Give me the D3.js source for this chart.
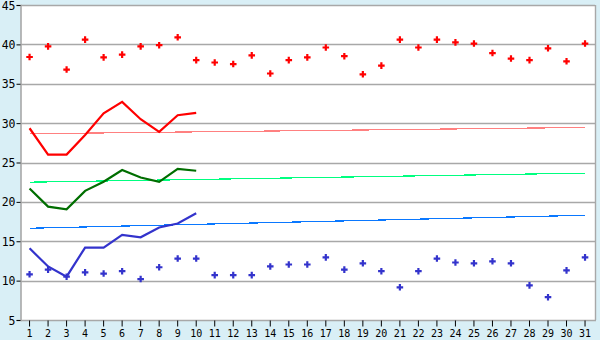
<!DOCTYPE html>
<html><head><meta charset="utf-8">
<script src="https://cdn.jsdelivr.net/npm/d3@7"></script>
<style>
html,body{margin:0;padding:0;background:#d9eff6;}
svg{display:block;}
text{font-family:"DejaVu Sans Mono",monospace;fill:#000;}
</style></head><body>
<svg id="c" width="600" height="340"></svg>
<script>
const days = d3.range(1, 32).map(String);
const yTicks = [5, 10, 15, 20, 25, 30, 35, 40, 45];
const highPoints = [38.4, 39.75, 36.8, 40.6, 38.35, 38.7, 39.75, 39.9, 40.9, 38.0,
  37.7, 37.5, 38.6, 36.3, 38.0, 38.35, 39.6, 38.5, 36.2, 37.3,
  40.6, 39.6, 40.6, 40.25, 40.1, 38.9, 38.2, 38.0, 39.5, 37.85, 40.1];
const lowPoints = [10.8, 11.4, 10.5, 11.05, 10.9, 11.2, 10.2, 11.7, 12.8, 12.8,
  10.7, 10.7, 10.7, 11.8, 12.05, 12.05, 12.95, 11.4, 12.2, 11.2,
  9.15, 11.2, 12.8, 12.3, 12.2, 12.45, 12.2, 9.4, 7.9, 11.3, 12.95];
const redLine = [29.35, 26.0, 26.0, 28.5, 31.25, 32.7, 30.5, 28.9, 31.0, 31.3];
const greenLine = [21.7, 19.4, 19.05, 21.4, 22.55, 24.05, 23.1, 22.55, 24.2, 23.95];
const blueLine = [14.1, 11.8, 10.5, 14.2, 14.2, 15.8, 15.5, 16.75, 17.25, 18.55];
const trendPink = [28.65, 29.45];
const trendGreen = [22.5, 23.65];
const trendBlue = [16.65, 18.3];

const svg = d3.select("#c");
const L = 21, R = 595, T = 5, B = 320;
const x = d3.scaleBand().domain(days).range([L - 0.7, R - 0.7]);
const xc = d => x(d) + x.bandwidth() / 2;
const y = d3.scaleLinear().domain([5, 45]).range([B, T]);

svg.append("rect").attr("x", L).attr("y", T).attr("width", R - L).attr("height", B - T).attr("fill", "#fff");

// gridlines
svg.append("g").selectAll("line").data(yTicks.filter(v => v > 5)).join("line")
  .attr("x1", L).attr("x2", R).attr("y1", d => Math.round(y(d)) + 0.5).attr("y2", d => Math.round(y(d)) + 0.5)
  .attr("stroke", "#a8a8a8").attr("stroke-width", 1.4);
// right border
svg.append("line").attr("x1", R + 0.5).attr("x2", R + 0.5).attr("y1", T).attr("y2", B)
  .attr("stroke", "#a8a8a8").attr("stroke-width", 1.4);

// axes
const yAxis = d3.axisLeft(y).tickValues(yTicks).tickSize(4).tickPadding(1);
const gy = svg.append("g").attr("transform", `translate(${L - 0.5},0)`).call(yAxis);
gy.select(".domain").attr("stroke", "#a8a8a8").attr("stroke-width", 1.6);
gy.selectAll(".tick line").attr("stroke", "#000");
gy.selectAll("text").style("font-size", "11.5px").attr("dy", "0.35em");

const xAxis = d3.axisBottom(x).tickSize(6).tickPadding(3);
const gx = svg.append("g").attr("transform", `translate(0,${B + 0.5})`).call(xAxis);
gx.select(".domain").attr("stroke", "#a8a8a8").attr("stroke-width", 1.6).attr("d", `M${L},0H${R + 1}`);
gx.selectAll(".tick line").attr("stroke", "#000");
gx.selectAll("text").style("font-size", "10px");

// trend lines
function trend(vals, color) {
  svg.append("line")
    .attr("x1", xc(days[0])).attr("x2", xc(days[30]))
    .attr("y1", y(vals[0])).attr("y2", y(vals[1]))
    .attr("stroke", color).attr("stroke-width", 1.2).attr("shape-rendering", "crispEdges");
}
trend(trendPink, "#ff8080");
trend(trendGreen, "#00ff80");
trend(trendBlue, "#0a78ff");

// lines
const line = d3.line().x((d, i) => xc(days[i])).y(d => y(d));
function drawLine(vals, color) {
  svg.append("path").datum(vals).attr("d", line).attr("fill", "none")
    .attr("stroke", color).attr("stroke-width", 2.2);
}
drawLine(redLine, "#ff0000");
drawLine(greenLine, "#006e00");
drawLine(blueLine, "#3333cc");

// points
const sym = d3.symbol().type(d3.symbolCross).size(24);
function drawPts(vals, color) {
  svg.append("g").selectAll("path").data(vals).join("path")
    .attr("transform", (d, i) => `translate(${xc(days[i])},${y(d)})`)
    .attr("d", sym).attr("fill", color);
}
drawPts(highPoints, "#ff0000");
drawPts(lowPoints, "#3333cc");
</script>
</body></html>
